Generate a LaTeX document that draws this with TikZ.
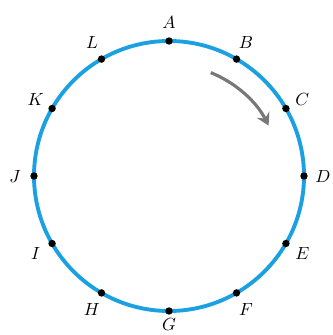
\documentclass[tikz,border=0pt]{standalone}
\usepackage{tikz}
\usetikzlibrary{arrows.meta}

\definecolor{ringblue}{RGB}{27,161,226}
\definecolor{arrowgray}{RGB}{120,120,120}

\begin{document}
\begin{tikzpicture}[
  ring/.style={draw=ringblue, line width=2.2pt},
  pt/.style={circle, fill=black, inner sep=0pt, minimum size=4.2pt},
  lbl/.style={inner sep=0pt, font=\normalsize},
  turn/.style={draw=arrowgray, line width=1.8pt, -{Stealth[length=7pt, width=8pt, inset=2.5pt]}}
]
\useasboundingbox (-3.38,-3.18) rectangle (3.26,3.52);

\draw[ring] (0,0) circle[radius=2.7];

\foreach \name/\d [count=\i from 0] in {A/3.08,B/3.08,C/3.08,D/3.08,E/3.08,F/3.08,
                                        G/2.97,H/3.08,I/3.08,J/3.08,K/3.08,L/3.08}{
  \node[pt]  (p\name) at ({90-30*\i}:2.7) {};
  \node[lbl] (l\name) at ({90-30*\i}:\d) {$\name$};
}

% direction of travel
\coordinate (go) at (68:2.23);
\draw[turn] (go) arc[start angle=68, end angle=27, radius=2.24];

\end{tikzpicture}
\end{document}
